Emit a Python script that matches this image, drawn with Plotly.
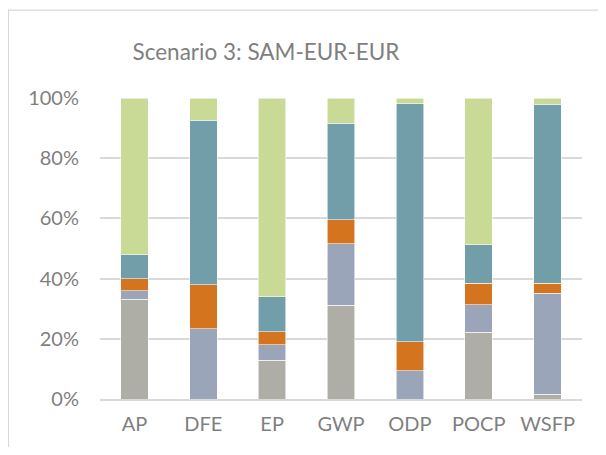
import plotly.graph_objects as go

categories = ["AP", "DFE", "EP", "GWP", "ODP", "POCP", "WSFP"]
series_names = ["Series 1", "Series 2", "Series 3", "Series 4", "Series 5"]
s1 = [33.1, 0.0, 12.9, 31.1, 0.0, 22.1, 1.6]
s2 = [2.9, 23.4, 5.2, 20.4, 9.4, 9.2, 33.6]
s3 = [3.9, 14.6, 4.2, 8.0, 9.6, 7.2, 3.3]
s4 = [8.0, 54.6, 11.6, 32.1, 79.1, 12.8, 59.4]
s5 = [52.1, 7.4, 66.1, 8.4, 1.9, 48.7, 2.1]
colors = ["#AEAEA6", "#9BA5BA", "#D4741F", "#729EAA", "#C8DA96"]

# page has an 8px body margin; figure coordinates = page coordinates - 8
OFF = 8
W, H = 606 - 2 * OFF, 455 - 2 * OFF
ml = 100 - OFF
mt = 98 - OFF
mr = W - (582 - OFF)
mb = H - (401 - OFF)

fig = go.Figure()
for name, vals, c in zip(series_names, [s1, s2, s3, s4, s5], colors):
    fig.add_trace(go.Bar(
        x=categories, y=[v / 100 for v in vals], name=name,
        marker=dict(color=c, line=dict(color="rgba(255,255,255,0.7)", width=0.8)),
    ))

fig.update_layout(
    width=W, height=H,
    barmode="stack", bargap=0.6,
    showlegend=False,
    paper_bgcolor="white", plot_bgcolor="white",
    margin=dict(l=ml, r=mr, t=mt, b=mb),
    font=dict(family="Lato, Open Sans, sans-serif", color="#7F7F7F"),
    title=dict(text="Scenario 3: SAM-EUR-EUR", x=(266 - OFF) / W, xref="container", xanchor="center",
               y=1 - (52 - OFF) / H, yref="container", yanchor="middle",
               font=dict(size=22.5, color="#7F7F7F")),
    xaxis=dict(showgrid=False, showline=True, linecolor="#D9D9D9", linewidth=1.5,
               tickfont=dict(size=20, color="#7F7F7F"), ticklabelstandoff=6),
    yaxis=dict(range=[0, 1], tickvals=[0, 0.2, 0.4, 0.6, 0.8, 1.0],
               tickformat=".0%", showgrid=True, gridcolor="#D9D9D9", gridwidth=1.5,
               zeroline=False, showline=False,
               tickfont=dict(size=20, color="#7F7F7F"), ticklabelstandoff=20),
)

# chart-area border (left and top)
px = lambda x: (x - OFF - ml) / (W - ml - mr)
py = lambda y: (H - mb - (y - OFF)) / (H - mt - mb)
fig.add_shape(type="line", xref="paper", yref="paper",
              x0=px(8.5), x1=px(8.5), y0=py(455), y1=py(9),
              line=dict(color="#D9D9D9", width=1.2))
fig.add_shape(type="line", xref="paper", yref="paper",
              x0=px(8.5), x1=px(606), y0=py(9.5), y1=py(9.5),
              line=dict(color="#D9D9D9", width=1.2))

fig.write_html("out.html")
